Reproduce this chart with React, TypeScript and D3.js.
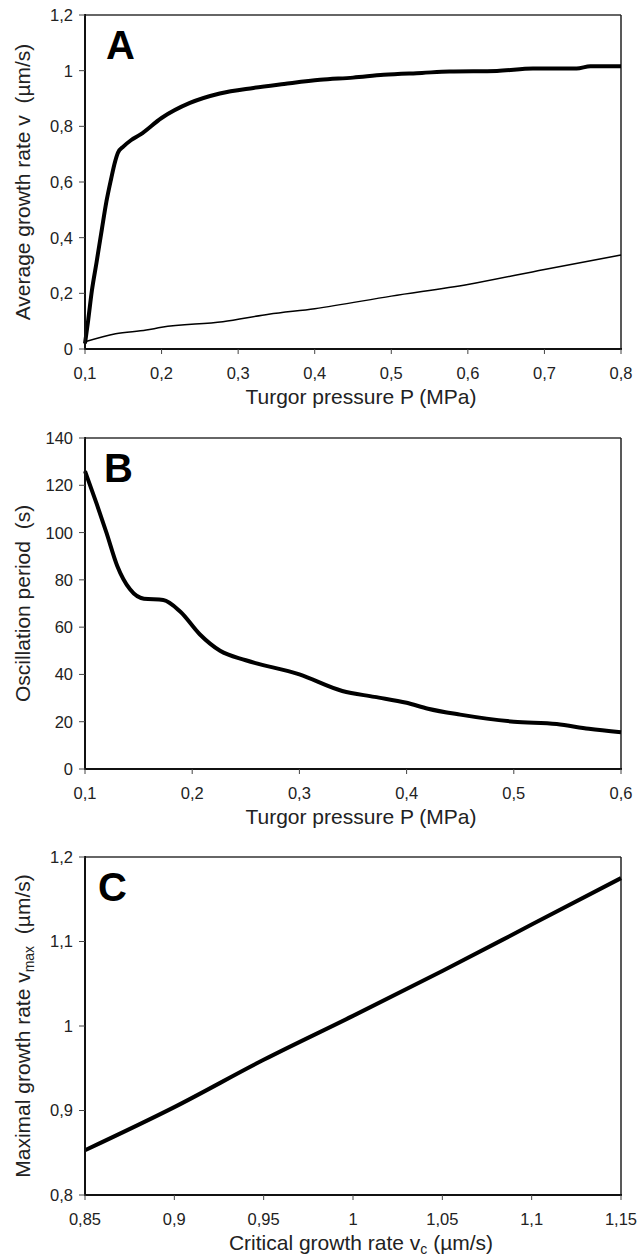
import React from "react";
import * as d3 from "d3";

// ---------- Data ----------
// Panel A: average growth rate vs turgor pressure
const aThickP = [0.1, 0.104, 0.109, 0.115, 0.122, 0.128, 0.134, 0.139, 0.143, 0.15, 0.16, 0.172, 0.2, 0.237, 0.276, 0.32, 0.36, 0.407, 0.45, 0.49, 0.54, 0.576, 0.638, 0.685, 0.742, 0.76, 0.8];
const aThickV = [0.02, 0.1, 0.21, 0.31, 0.43, 0.53, 0.61, 0.67, 0.705, 0.727, 0.75, 0.77, 0.83, 0.884, 0.918, 0.938, 0.952, 0.967, 0.975, 0.985, 0.992, 0.997, 0.999, 1.008, 1.008, 1.016, 1.016];
const aThinP = [0.1, 0.14, 0.18, 0.2, 0.28, 0.34, 0.4, 0.5, 0.6, 0.7, 0.8];
const aThinV = [0.026, 0.055, 0.068, 0.078, 0.098, 0.125, 0.145, 0.19, 0.232, 0.286, 0.338];
const aXTicks = [0.1, 0.2, 0.3, 0.4, 0.5, 0.6, 0.7, 0.8];
const aXLabels = ["0,1", "0,2", "0,3", "0,4", "0,5", "0,6", "0,7", "0,8"];
const aYTicks = [0, 0.2, 0.4, 0.6, 0.8, 1, 1.2];
const aYLabels = ["0", "0,2", "0,4", "0,6", "0,8", "1", "1,2"];

// Panel B: oscillation period vs turgor pressure
const bP = [0.1, 0.111, 0.12, 0.13, 0.142, 0.155, 0.173, 0.189, 0.207, 0.226, 0.25, 0.3, 0.34, 0.37, 0.4, 0.42, 0.45, 0.5, 0.54, 0.57, 0.6];
const bPeriod = [126, 112, 100, 86, 76, 72, 71.5, 66.5, 57, 50, 46, 40, 33, 30.5, 28, 25.5, 23, 20, 19, 17, 15.5];
const bXTicks = [0.1, 0.2, 0.3, 0.4, 0.5, 0.6];
const bXLabels = ["0,1", "0,2", "0,3", "0,4", "0,5", "0,6"];
const bYTicks = [0, 20, 40, 60, 80, 100, 120, 140];
const bYLabels = ["0", "20", "40", "60", "80", "100", "120", "140"];

// Panel C: maximal vs critical growth rate
const cVc = [0.85, 0.9, 0.95, 1, 1.05, 1.1, 1.15];
const cVmax = [0.853, 0.904, 0.96, 1.012, 1.065, 1.12, 1.175];
const cXTicks = [0.85, 0.9, 0.95, 1, 1.05, 1.1, 1.15];
const cXLabels = ["0,85", "0,9", "0,95", "1", "1,05", "1,1", "1,15"];
const cYTicks = [0.8, 0.9, 1, 1.1, 1.2];
const cYLabels = ["0,8", "0,9", "1", "1,1", "1,2"];

const FONT = "'Liberation Sans', Arial, Helvetica, sans-serif";
const LEFT = 85;
const RIGHT = 621;

type Series = { xs: number[]; ys: number[]; width: number };

function Panel(props: {
  top: number;
  bottom: number;
  xDomain: [number, number];
  yDomain: [number, number];
  xTicks: number[];
  xLabels: string[];
  yTicks: number[];
  yLabels: string[];
  series: Series[];
  letter: string;
  letterX: number;
  xTitle: React.ReactNode;
  yTitle: React.ReactNode;
}) {
  const { top, bottom } = props;
  const x = d3.scaleLinear().domain(props.xDomain).range([LEFT, RIGHT]);
  const y = d3.scaleLinear().domain(props.yDomain).range([bottom, top]);
  const midY = (top + bottom) / 2;
  return (
    <g>
      <line x1={LEFT} x2={RIGHT} y1={top} y2={top} stroke="#333" strokeWidth={1.5} />
      <line x1={RIGHT} x2={RIGHT} y1={top} y2={bottom} stroke="#222" strokeWidth={1.5} />
      {props.series.map((s, i) => {
        const pts = s.xs.map((v, j) => [x(v), y(s.ys[j])] as [number, number]);
        const line = d3.line().curve(d3.curveMonotoneX);
        return (
          <path
            key={i}
            d={line(pts) || ""}
            fill="none"
            stroke="#000"
            strokeWidth={s.width}
            strokeLinejoin="round"
            strokeLinecap="butt"
          />
        );
      })}
      <line x1={LEFT} x2={LEFT} y1={top - 1} y2={bottom} stroke="#111" strokeWidth={2} />
      <line x1={LEFT - 1} x2={RIGHT + 1} y1={bottom} y2={bottom} stroke="#111" strokeWidth={2} />
      {props.yTicks.map((t, i) => (
        <g key={"y" + i}>
          <line x1={LEFT - 6} x2={LEFT} y1={y(t)} y2={y(t)} stroke="#444" strokeWidth={1} />
          <text x={LEFT - 12} y={y(t)} dy="0.36em" textAnchor="end" fontSize={16.5} fontFamily={FONT} fill="#222">
            {props.yLabels[i]}
          </text>
        </g>
      ))}
      {props.xTicks.map((t, i) => (
        <g key={"x" + i}>
          <line x1={x(t)} x2={x(t)} y1={bottom} y2={bottom + 5} stroke="#444" strokeWidth={1} />
          <text x={x(t)} y={bottom + 30} textAnchor="middle" fontSize={16.5} fontFamily={FONT} fill="#222">
            {props.xLabels[i]}
          </text>
        </g>
      ))}
      <text x={props.letterX} y={top + 44} fontSize={40} fontWeight="bold" fontFamily={FONT} fill="#000">
        {props.letter}
      </text>
      <text x={(LEFT + RIGHT) / 2 + 8} y={bottom + 55} textAnchor="middle" fontSize={21} fontFamily={FONT} fill="#222">
        {props.xTitle}
      </text>
      <text
        transform={`translate(30,${midY}) rotate(-90)`}
        textAnchor="middle"
        fontSize={21}
        fontFamily={FONT}
        fill="#222"
      >
        {props.yTitle}
      </text>
    </g>
  );
}

export default function App() {
  return (
    <svg
      width={638}
      height={1256}
      style={{ position: "absolute", left: 0, top: 0, background: "#fff" }}
    >
      <rect width={638} height={1256} fill="#fff" />
      <Panel
        top={15}
        bottom={349}
        xDomain={[0.1, 0.8]}
        yDomain={[0, 1.2]}
        xTicks={aXTicks}
        xLabels={aXLabels}
        yTicks={aYTicks}
        yLabels={aYLabels}
        series={[
          { xs: aThickP, ys: aThickV, width: 4 },
          { xs: aThinP, ys: aThinV, width: 1.5 },
        ]}
        letter="A"
        letterX={106}
        xTitle="Turgor pressure P (MPa)"
        yTitle={"Average growth rate v\u00a0\u00a0(\u00b5m/s)"}
      />
      <Panel
        top={438}
        bottom={769}
        xDomain={[0.1, 0.6]}
        yDomain={[0, 140]}
        xTicks={bXTicks}
        xLabels={bXLabels}
        yTicks={bYTicks}
        yLabels={bYLabels}
        series={[{ xs: bP, ys: bPeriod, width: 4 }]}
        letter="B"
        letterX={104}
        xTitle="Turgor pressure P (MPa)"
        yTitle={"Oscillation period\u00a0\u00a0(s)"}
      />
      <Panel
        top={857}
        bottom={1195}
        xDomain={[0.85, 1.15]}
        yDomain={[0.8, 1.2]}
        xTicks={cXTicks}
        xLabels={cXLabels}
        yTicks={cYTicks}
        yLabels={cYLabels}
        series={[{ xs: cVc, ys: cVmax, width: 4 }]}
        letter="C"
        letterX={98}
        xTitle={
          <>
            {"Critical growth rate v"}
            <tspan fontSize={14} dy={4}>c</tspan>
            <tspan dy={-4}>{" (\u00b5m/s)"}</tspan>
          </>
        }
        yTitle={
          <>
            {"Maximal growth rate v"}
            <tspan fontSize={14} dy={4}>max</tspan>
            <tspan dy={-4}>{"\u00a0\u00a0(\u00b5m/s)"}</tspan>
          </>
        }
      />
    </svg>
  );
}
